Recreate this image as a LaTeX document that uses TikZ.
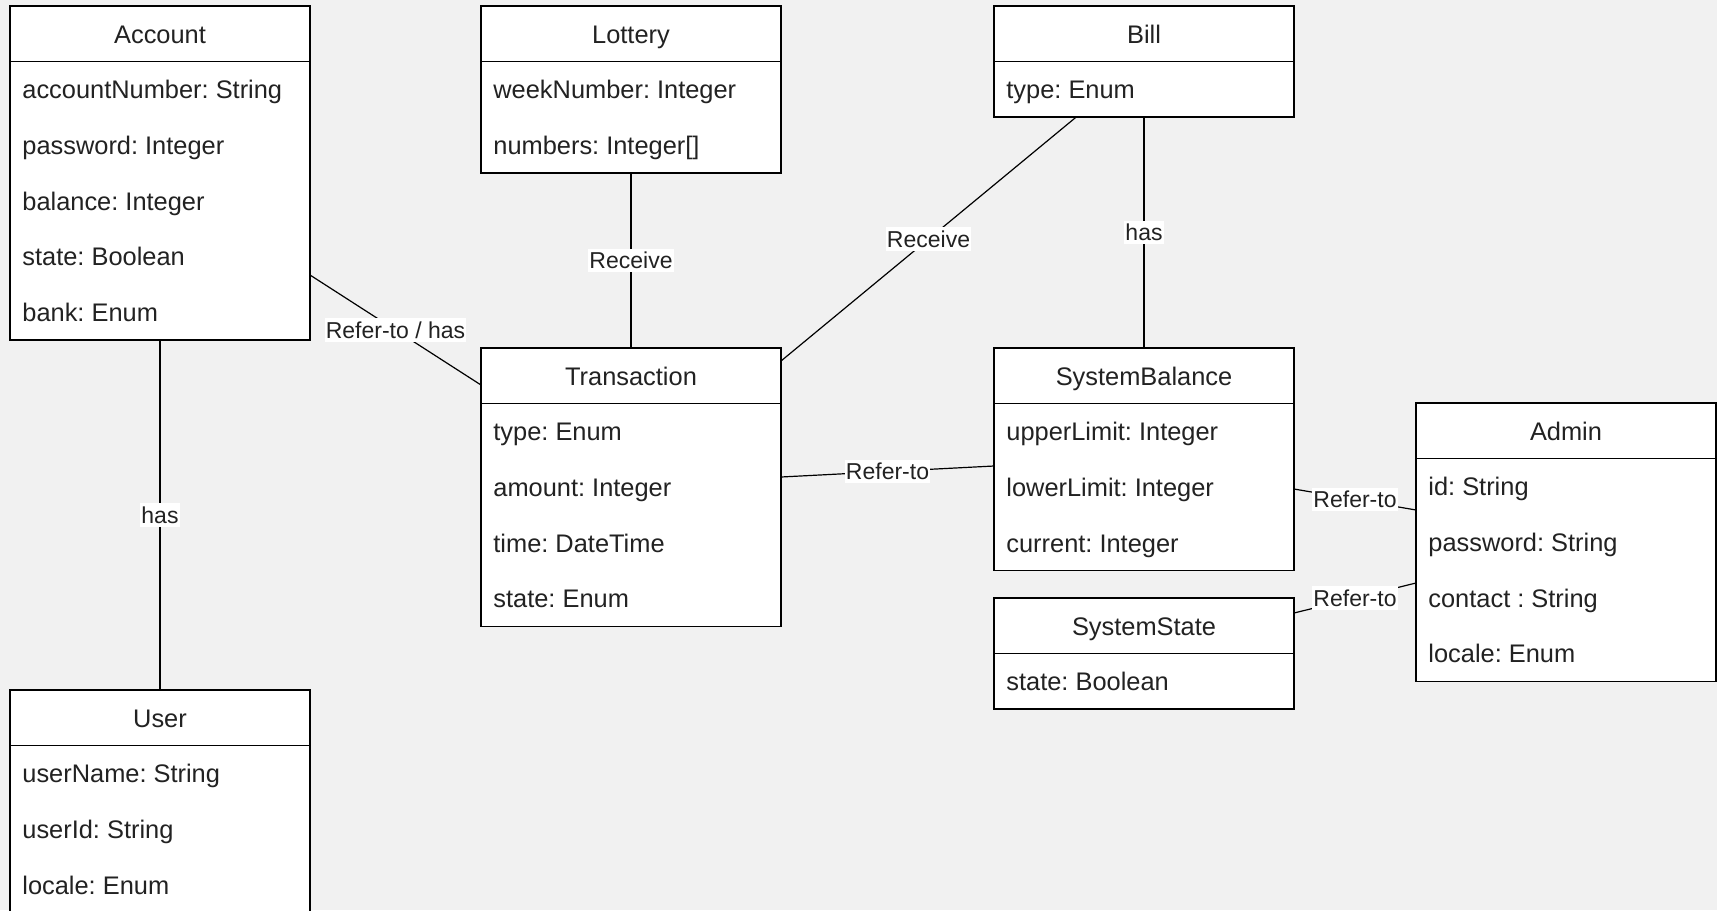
\documentclass[tikz,border=0pt]{standalone}
\usepackage{fontspec}
\setmainfont{Liberation Sans}

\definecolor{canvas}{RGB}{241,241,241}
\definecolor{ink}{RGB}{34,34,34}

\tikzset{
  classbox/.style={draw=black, line width=0.8pt, fill=white, minimum width=150pt,
                   inner sep=0pt, outer sep=0pt},
  sepline/.style={draw=black, line width=0.8pt},
  titletext/.style={font=\fontsize{12.7}{15}\selectfont\frenchspacing, text=ink, inner sep=0pt},
  attrtext/.style={font=\fontsize{12.7}{15}\selectfont\frenchspacing, text=ink, inner sep=0pt},
  link/.style={draw=black, line width=0.6pt},
  linklabel/.style={font=\fontsize{11.5}{13}\selectfont\frenchspacing, text=ink, fill=white,
                    inner xsep=0.6pt, inner ysep=1.6pt},
}

% \umlclass{name}{left}{top}{number of rows}{title}{attribute list}
\newcommand{\umlclass}[6]{%
  \pgfmathsetmacro\boxh{(55.5+55.7*#4)*0.5}%
  \node[classbox, anchor=north west, minimum height=\boxh pt] (#1) at (#2,#3) {};
  \draw[sepline] ([yshift=-27.75pt]#1.north west) -- ([yshift=-27.75pt]#1.north east);
  \node[titletext, anchor=base] (#1-title) at ([yshift=-18.6pt]#1.north) {#5};
  \foreach \attr [count=\rowno] in {#6} {
    \node[attrtext, anchor=base west] (#1-\rowno)
      at ([xshift=6pt, yshift={-27.75pt-(\rowno-0.5)*27.85pt-4.75pt}]#1.north west) {\attr};
  }%
}

\begin{document}
\frenchspacing
\begin{tikzpicture}[x=0.5pt, y=-0.5pt]
  \fill[canvas] (0,0) rectangle (1717,910);
  \useasboundingbox (0,0) rectangle (1717,910);
  \clip (0,0) rectangle (1717,910);

  % classes
  \umlclass{account}{10}{6}{5}{Account}
    {accountNumber: String, password: Integer, balance: Integer, state: Boolean, bank: Enum}
  \umlclass{lottery}{481}{6}{2}{Lottery}
    {weekNumber: Integer, numbers: Integer[]}
  \umlclass{bill}{994}{6}{1}{Bill}
    {type: Enum}
  \umlclass{transaction}{481}{348}{4}{Transaction}
    {type: Enum, amount: Integer, time: DateTime, state: Enum}
  \umlclass{sysbalance}{994}{348}{3}{SystemBalance}
    {upperLimit: Integer, lowerLimit: Integer, current: Integer}
  \umlclass{sysstate}{994}{598}{1}{SystemState}
    {state: Boolean}
  \umlclass{admin}{1416}{403}{4}{Admin}
    {id: String, password: String, contact : String, locale: Enum}
  \umlclass{user}{10}{690}{3}{User}
    {userName: String, userId: String, locale: Enum}

  % associations
  \draw[link] ([yshift=-134.5pt]account.north east)
    -- node[linklabel] {Refer-to / has} ([yshift=-18.5pt]transaction.north west);
  \draw[link] (account.south) -- node[linklabel] {has} (user.north);
  \draw[link] (lottery.south) -- node[linklabel] {Receive} (transaction.north);
  \draw[link] ([xshift=41pt]bill.south west)
    -- node[linklabel] {Receive} ([yshift=-6.5pt]transaction.north east);
  \draw[link] (bill.south) -- node[linklabel] {has} (sysbalance.north);
  \draw[link] ([yshift=-64.5pt]transaction.north east)
    -- node[linklabel] {Refer-to} ([yshift=-59pt]sysbalance.north west);
  \draw[link] ([yshift=-70.5pt]sysbalance.north east)
    -- node[linklabel] {Refer-to} ([yshift=-53.5pt]admin.north west);
  \draw[link] ([yshift=-7.5pt]sysstate.north east)
    -- node[linklabel] {Refer-to} ([yshift=-90pt]admin.north west);
\end{tikzpicture}
\end{document}
